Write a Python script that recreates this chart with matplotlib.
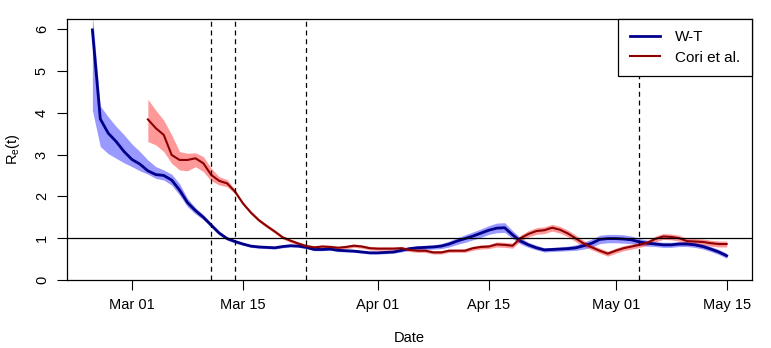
import numpy as np
import pandas as pd
import matplotlib
matplotlib.use("Agg")
import matplotlib.pyplot as plt
import matplotlib.dates as mdates

plt.rcParams['font.family'] = ['Liberation Sans', 'DejaVu Sans']
plt.rcParams['mathtext.default'] = 'regular'

# Re(t) estimates, daily from 25 Feb to 15 May 2020
wt_dates = pd.date_range('2020-02-25', '2020-05-15', freq='D')
wt_mean = [5.98, 3.85, 3.51, 3.31, 3.07, 2.88, 2.77, 2.61, 2.52, 2.50,
           2.39, 2.15, 1.85, 1.66, 1.50, 1.31, 1.12, 0.99, 0.92, 0.86,
           0.81, 0.79, 0.78, 0.77, 0.80, 0.82, 0.81, 0.78, 0.73, 0.73,
           0.74, 0.71, 0.70, 0.69, 0.67, 0.65, 0.65, 0.66, 0.67, 0.71,
           0.75, 0.77, 0.78, 0.79, 0.81, 0.86, 0.93, 0.99, 1.05, 1.12,
           1.19, 1.24, 1.25, 1.08, 0.93, 0.84, 0.77, 0.72, 0.73, 0.74,
           0.75, 0.77, 0.82, 0.88, 0.97, 0.99, 0.99, 0.98, 0.96, 0.91,
           0.88, 0.86, 0.84, 0.84, 0.86, 0.86, 0.84, 0.80, 0.74, 0.67,
           0.58]
wt_lo = [4.06, 3.19, 3.02, 2.91, 2.80, 2.71, 2.61, 2.53, 2.43, 2.39,
         2.27, 2.03, 1.75, 1.58, 1.44, 1.26, 1.08, 0.95, 0.88, 0.83,
         0.78, 0.76, 0.75, 0.74, 0.77, 0.79, 0.78, 0.75, 0.70, 0.70,
         0.71, 0.68, 0.67, 0.66, 0.64, 0.62, 0.62, 0.63, 0.64, 0.67,
         0.71, 0.73, 0.73, 0.74, 0.75, 0.79, 0.85, 0.90, 0.96, 1.02,
         1.09, 1.13, 1.14, 0.99, 0.86, 0.78, 0.72, 0.67, 0.68, 0.69,
         0.70, 0.71, 0.74, 0.79, 0.87, 0.89, 0.89, 0.88, 0.87, 0.83,
         0.81, 0.80, 0.78, 0.78, 0.80, 0.80, 0.78, 0.74, 0.68, 0.61,
         0.52]
wt_hi = [6.35, 4.16, 3.90, 3.67, 3.47, 3.25, 3.07, 2.87, 2.71, 2.63,
         2.53, 2.30, 1.95, 1.73, 1.56, 1.36, 1.17, 1.03, 0.96, 0.89,
         0.84, 0.82, 0.81, 0.80, 0.83, 0.85, 0.84, 0.81, 0.76, 0.76,
         0.77, 0.74, 0.73, 0.72, 0.70, 0.68, 0.68, 0.69, 0.71, 0.75,
         0.79, 0.82, 0.83, 0.84, 0.87, 0.93, 1.01, 1.08, 1.15, 1.22,
         1.30, 1.36, 1.37, 1.18, 1.01, 0.90, 0.83, 0.77, 0.78, 0.79,
         0.81, 0.84, 0.91, 0.98, 1.07, 1.09, 1.09, 1.08, 1.05, 0.99,
         0.95, 0.92, 0.90, 0.90, 0.92, 0.92, 0.90, 0.86, 0.80, 0.73,
         0.64]

# Cori et al., daily from 3 Mar to 15 May 2020
cori_dates = pd.date_range('2020-03-03', '2020-05-15', freq='D')
cori_mean = [3.84, 3.63, 3.47,
             2.99, 2.87, 2.87, 2.91, 2.79, 2.51, 2.37, 2.31, 2.11, 1.83,
             1.61, 1.43, 1.29, 1.16, 1.02, 0.94, 0.87, 0.81, 0.78, 0.80,
             0.79, 0.77, 0.79, 0.82, 0.80, 0.76, 0.75, 0.75, 0.75, 0.76,
             0.72, 0.70, 0.70, 0.66, 0.66, 0.70, 0.70, 0.70, 0.76, 0.79,
             0.80, 0.85, 0.84, 0.82, 1.00, 1.10, 1.17, 1.19, 1.25, 1.20,
             1.11, 0.99, 0.87, 0.78, 0.70, 0.63, 0.70, 0.76, 0.80, 0.84,
             0.89, 0.98, 1.04, 1.03, 1.00, 0.93, 0.92, 0.91, 0.88, 0.86,
             0.86]
cori_lo = [3.31, 3.23, 3.07,
           2.79, 2.63, 2.61, 2.71, 2.59, 2.37, 2.27, 2.23, 2.06, 1.79,
           1.57, 1.39, 1.25, 1.12, 0.98, 0.90, 0.83, 0.77, 0.74, 0.76,
           0.75, 0.73, 0.75, 0.78, 0.76, 0.72, 0.71, 0.71, 0.71, 0.72,
           0.68, 0.66, 0.66, 0.62, 0.62, 0.66, 0.66, 0.66, 0.71, 0.74,
           0.75, 0.79, 0.78, 0.76, 0.93, 1.03, 1.09, 1.11, 1.17, 1.12,
           1.03, 0.91, 0.80, 0.72, 0.64, 0.57, 0.64, 0.70, 0.74, 0.78,
           0.83, 0.91, 0.97, 0.96, 0.93, 0.86, 0.85, 0.84, 0.81, 0.79,
           0.79]
cori_hi = [4.32, 4.06, 3.82,
           3.47, 3.07, 3.03, 3.04, 2.95, 2.67, 2.47, 2.40, 2.16, 1.87,
           1.65, 1.47, 1.33, 1.20, 1.06, 0.98, 0.91, 0.85, 0.82, 0.84,
           0.83, 0.81, 0.83, 0.86, 0.84, 0.80, 0.79, 0.79, 0.79, 0.80,
           0.76, 0.74, 0.74, 0.70, 0.70, 0.74, 0.74, 0.75, 0.81, 0.84,
           0.85, 0.91, 0.90, 0.88, 1.07, 1.18, 1.25, 1.27, 1.33, 1.28,
           1.19, 1.07, 0.94, 0.84, 0.76, 0.69, 0.76, 0.82, 0.86, 0.90,
           0.95, 1.05, 1.11, 1.10, 1.07, 1.00, 0.99, 0.98, 0.95, 0.93,
           0.93]

events = ['2020-03-11', '2020-03-14', '2020-03-23', '2020-05-04']
tick_dates = ['2020-03-01', '2020-03-15', '2020-04-01', '2020-04-15', '2020-05-01', '2020-05-15']

fig = plt.figure(figsize=(7.71, 3.48), dpi=100)
ax = fig.add_axes([67 / 771, 1 - 280 / 348, 685 / 771, 261 / 348])

ax.fill_between(wt_dates, wt_lo, wt_hi, color='blue', alpha=0.4, lw=0)
ax.fill_between(cori_dates, cori_lo, cori_hi, color='red', alpha=0.4, lw=0)
ax.plot(wt_dates, wt_mean, color='darkblue', lw=2, label='W-T')
ax.plot(cori_dates, cori_mean, color='darkred', lw=1.5, label='Cori et al.')

ax.axhline(1, color='black', lw=0.9)
for d in events:
    ax.axvline(pd.Timestamp(d), color='black', lw=0.9, ls=(0, (4, 3)))

# R style 4% padding on the date axis
x0 = mdates.date2num(wt_dates[0])
x1 = mdates.date2num(wt_dates[-1])
pad = 0.04 * (x1 - x0)
ax.set_xlim(x0 - pad, x1 + pad)
ax.set_ylim(0, 6.24)

ax.set_xticks([pd.Timestamp(t) for t in tick_dates])
ax.xaxis.set_major_formatter(mdates.DateFormatter('%b %d'))
ax.set_yticks(range(0, 7))
ax.tick_params(direction='out', length=7, width=0.8, labelsize=10.5, pad=6)
for lab in ax.get_yticklabels():
    lab.set_rotation(90)
    lab.set_va('center')
for s in ax.spines.values():
    s.set_linewidth(0.9)

ax.set_xlabel('Date', fontsize=10.5, labelpad=14)
ax.set_ylabel('R$_e$(t)', fontsize=10.5, labelpad=9)

leg = ax.legend(loc='upper right', borderaxespad=0, fancybox=False, framealpha=1,
                edgecolor='black', fontsize=11, handlelength=2.0,
                handletextpad=1.0, labelspacing=0.4, borderpad=0.75)
leg.get_frame().set_linewidth(0.9)

fig.savefig('out.png', dpi=100)
